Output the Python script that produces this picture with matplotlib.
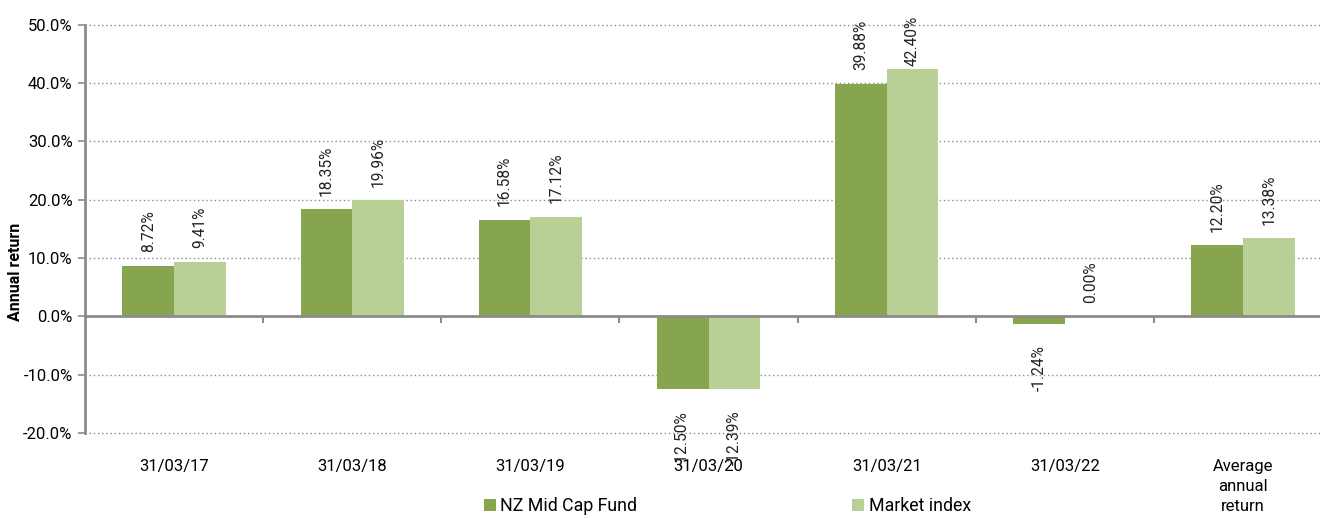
import matplotlib.pyplot as plt
import numpy as np

# Data
categories = ['31/03/17', '31/03/18', '31/03/19', '31/03/20', '31/03/21', '31/03/22',
              'Average\nannual\nreturn']
fund = [8.72, 18.35, 16.58, -12.50, 39.88, -1.24, 12.20]
index = [9.41, 19.96, 17.12, -12.39, 42.40, 0.00, 13.38]
series_names = ['NZ Mid Cap Fund', 'Market index']

dark_green = '#87A44E'
light_green = '#B8CF96'
grey = '#8C8C8C'
fs = 12

plt.rcParams['font.family'] = ['Roboto', 'DejaVu Sans']

fig = plt.figure(figsize=(13.2, 5.18), dpi=100)
# axes extends slightly past right edge, like the original
ax = fig.add_axes([0.0644, 0.164, 0.9447, 0.788])

x = np.arange(len(categories))
w = 0.29
b1 = ax.bar(x - w / 2, fund, w, color=dark_green, label=series_names[0], zorder=3)
b2 = ax.bar(x + w / 2, index, w, color=light_green, label=series_names[1], zorder=3)

# value labels (kept inside the plot near the top)
for bars, vals in [(b1, fund), (b2, index)]:
    for rect, v in zip(bars, vals):
        cx = rect.get_x() + rect.get_width() / 2
        if v >= 0:
            ax.text(cx, min(v + 2.3, 43.0), f'{v:.2f}%', rotation=90, ha='center',
                    va='bottom', fontsize=11.2, color='#222222')
        else:
            ax.text(cx, v - 3.7, f'{v:.2f}%', rotation=90, ha='center',
                    va='top', fontsize=11.2, color='#222222')

ax.set_xlim(-0.5, len(categories) - 0.5)
ax.set_ylim(-20, 50)
ax.set_yticks(np.arange(-20, 51, 10))
ax.set_yticklabels([f'{t:.1f}%' for t in np.arange(-20, 51, 10)], fontsize=fs)
ax.yaxis.grid(True, linestyle=(0, (1, 2)), color=grey, linewidth=1)
for gl in ax.get_ygridlines():
    gl.set_clip_on(False)
ax.set_axisbelow(True)
ax.tick_params(axis='y', length=5, color=grey, width=1.2, pad=4)

# zero axis with ticks between categories
for s in ['top', 'right']:
    ax.spines[s].set_visible(False)
ax.spines['left'].set_color(grey)
ax.spines['left'].set_linewidth(2)
ax.spines['bottom'].set_position(('data', 0))
ax.spines['bottom'].set_color(grey)
ax.spines['bottom'].set_linewidth(2)
ax.spines['bottom'].set_zorder(4)
ax.set_xticks(x[:-1] + 0.5)
ax.set_xticklabels([])
ax.tick_params(axis='x', length=5, color=grey, width=1.5)

sec = ax.secondary_xaxis('bottom')
sec.set_xticks(x)
sec.set_xticklabels(categories, fontsize=fs, linespacing=1.4)
sec.tick_params(length=0, pad=19)
sec.spines['bottom'].set_visible(False)

ax.set_ylabel('Annual return', fontsize=11.5, fontweight='bold')
ax.yaxis.set_label_coords(-0.0497, 0.395)

fig.legend(handles=[b1, b2], loc='center', bbox_to_anchor=(0.551, 0.023), ncol=2,
           frameon=False, fontsize=12.8, handlelength=0.68, handleheight=0.68,
           handletextpad=0.25, columnspacing=12.1, borderpad=0)

fig.savefig('out.png', dpi=100)
